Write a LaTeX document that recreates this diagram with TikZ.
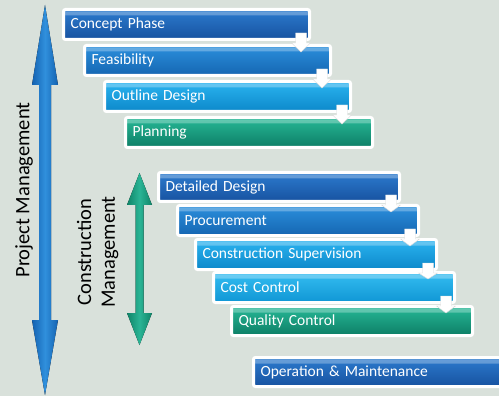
\documentclass[tikz,border=0pt]{standalone}
\usepackage{fontspec}
\setmainfont{Carlito}
\usetikzlibrary{calc}
\definecolor{bgc}{HTML}{D9E1DB}
\definecolor{dbTop}{HTML}{2C7BCE}\definecolor{dbBot}{HTML}{1752A0}
\definecolor{mbTop}{HTML}{2B8FDC}\definecolor{mbBot}{HTML}{1566B2}
\definecolor{lbTop}{HTML}{2BB4F0}\definecolor{lbBot}{HTML}{0C88CA}
\definecolor{cbTop}{HTML}{34BDF2}\definecolor{cbBot}{HTML}{1096D4}
\definecolor{gnTop}{HTML}{27B896}\definecolor{gnBot}{HTML}{0D7E66}
\definecolor{pmL}{HTML}{1462B2}\definecolor{pmM}{HTML}{3090DC}
\definecolor{cmL}{HTML}{0F8468}\definecolor{cmM}{HTML}{2AB495}
\tikzset{
  barbox/.style n args={4}{draw=white, line width=3pt, rounded corners=2pt,
    top color=#1, bottom color=#2, anchor=north west,
    minimum width=#3, minimum height=#4, text width=#3-14pt, inner xsep=7pt,
    align=left, text=white, font=\fontsize{15.5}{16}\selectfont,
    path picture={\fill[white,opacity=0.28]
      ([yshift=-2pt]path picture bounding box.north west) rectangle
      ([yshift=-6pt]path picture bounding box.north east);}},
  sidetext/.style={rotate=90, font=\fontsize{20.5}{22}\selectfont, text=black},
  dnarrow/.style={fill=white, draw=black!15, line width=0.4pt}
}
\newcommand{\downarr}[2]{%
  \path[dnarrow] let \p1=(#1.south east), \p2=(#2.north east) in
    (\x1-15.5pt,\y1+8pt) -- (\x1-4.5pt,\y1+8pt) -- (\x1-4.5pt,\y1-2pt) --
    (\x1-0.5pt,\y1-2pt) -- (\x1-10pt,\y2-8pt) -- (\x1-19.5pt,\y1-2pt) --
    (\x1-15.5pt,\y1-2pt) -- cycle;}
\begin{document}
\begin{tikzpicture}[x=1pt,y=-1pt]
\fill[bgc] (0,0) rectangle (499,396);
\useasboundingbox (0,0) rectangle (499,396);
% big arrows
\coordinate (pmtop) at (45,5);
\coordinate (pmbot) at (45,395);
\fill[left color=pmL, right color=pmL, middle color=pmM]
  (pmtop) -- (58,85) -- (51,85) -- (51,320) -- (58,320) -- (pmbot) --
  (32,320) -- (39,320) -- (39,85) -- (32,85) -- cycle;
\coordinate (cmtop) at (139.5,173);
\coordinate (cmbot) at (139.5,345);
\fill[left color=cmL, right color=cmL, middle color=cmM]
  (cmtop) -- (152,205) -- (143.5,205) -- (143.5,313) -- (152,313) -- (cmbot) --
  (127,313) -- (135.5,313) -- (135.5,205) -- (127,205) -- cycle;
\node[sidetext] (pm) at (24,190) {Project Management};
\node[sidetext] (cm1) at (84,252) {Construction};
\node[sidetext] (cm2) at (110,252) {Management};
% bars
\node[barbox={dbTop}{dbBot}{246pt}{30pt}] (c1) at (62,8) {Concept Phase};
\node[barbox={mbTop}{mbBot}{246pt}{30pt}] (c2) at (83,44) {Feasibility};
\node[barbox={lbTop}{lbBot}{246pt}{30pt}] (c3) at (103,80) {Outline Design};
\node[barbox={gnTop}{gnBot}{247pt}{30pt}] (c4) at (124,116) {Planning};
\node[barbox={dbTop}{dbBot}{241pt}{29pt}] (c5) at (157,171) {Detailed Design};
\node[barbox={mbTop}{mbBot}{241pt}{30pt}] (c6) at (176,204) {Procurement};
\node[barbox={lbTop}{lbBot}{241pt}{30pt}] (c7) at (194,238) {Construction Supervision};
\node[barbox={cbTop}{cbBot}{241pt}{30pt}] (c8) at (212,271) {Cost Control};
\node[barbox={gnTop}{gnBot}{241pt}{29pt}] (c9) at (230,305) {Quality Control};
\node[barbox={dbTop}{dbBot}{255pt}{29pt}] (c10) at (252,356) {Operation \& Maintenance};
% small down arrows
\downarr{c1}{c2}
\downarr{c2}{c3}
\downarr{c3}{c4}
\downarr{c5}{c6}
\downarr{c6}{c7}
\downarr{c7}{c8}
\downarr{c8}{c9}
\end{tikzpicture}
\end{document}
